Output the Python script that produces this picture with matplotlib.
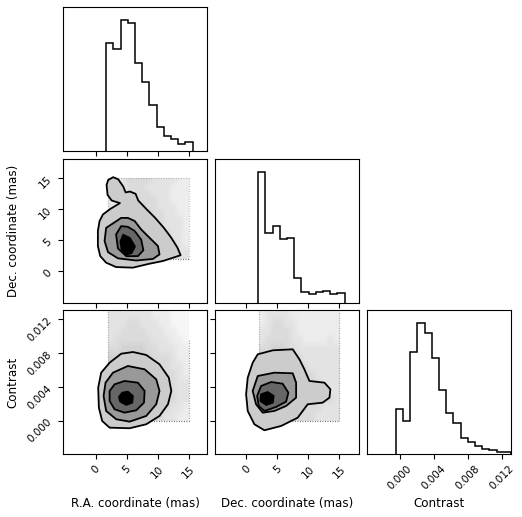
import numpy as np
import matplotlib
matplotlib.use("Agg")
import matplotlib.pyplot as plt
from matplotlib.colors import LinearSegmentedColormap

# ---------------- data ----------------
labels = ["R.A. coordinate (mas)", "Dec. coordinate (mas)", "Contrast"]
ra_range = [-5.25, 17.95]
dec_range = [-5.0, 18.15]
con_range = [-0.0039, 0.0131]
ra_ticks = [0, 5, 10, 15]
dec_ticks = [0, 5, 10, 15]
con_ticks = [0.000, 0.004, 0.008, 0.012]
con_ticklabels = ["0.000", "0.004", "0.008", "0.012"]
prior_lo, prior_hi = 2.0, 15.0

# 1D histograms (bin edges and counts)
ra_edges = [1.71, 2.87, 4.03, 5.19, 6.35, 7.51, 8.67, 9.83, 10.99, 12.15, 13.31, 14.47, 15.63]
ra_counts = [322, 304, 390, 382, 263, 206, 136, 71, 46, 35, 22, 28]
dec_edges = [1.95, 3.10, 4.26, 5.42, 6.58, 7.74, 8.89, 10.05, 11.21, 12.37, 13.52, 14.68, 15.84]
dec_counts = [393, 208, 229, 190, 193, 73, 31, 25, 31, 34, 25, 28]
con_edges = [-0.00050, 0.00035, 0.00120, 0.00205, 0.00290, 0.00375, 0.00460, 0.00545,
             0.00630, 0.00715, 0.00800, 0.00885, 0.00970, 0.01055, 0.01140, 0.01225, 0.01310]
con_counts = [134, 98, 305, 392, 362, 286, 191, 122, 92, 49, 36, 24, 15, 11, 5, 5]

# 2D credible-region outlines (outer -> inner)
radec_c1 = [(2.84, 15.15), (3.65, 14.8), (4.45, 13.65), (4.84, 12.7), (5.53, 12.84), (6.45, 12.47),
            (6.87, 11.4), (8.2, 10.0), (9.6, 8.6), (11.0, 7.0), (12.2, 5.4), (13.2, 3.8), (13.7, 2.6),
            (12.47, 2.2), (10.85, 1.67), (8.7, 1.24), (6.0, 0.6), (3.3, 0.7), (1.7, 1.4), (0.74, 2.47),
            (0.37, 4.07), (0.37, 6.5), (0.64, 8.1), (1.18, 9.15), (2.31, 10.0), (3.92, 10.98),
            (2.58, 11.4), (1.93, 12.3), (1.77, 13.9), (2.03, 14.7)]
radec_c2 = [(4.13, 8.6), (5.2, 8.6), (6.3, 8.1), (7.35, 6.74), (8.7, 5.4), (10.05, 4.07), (10.3, 2.73),
            (9.24, 2.0), (6.55, 1.75), (3.6, 2.1), (2.0, 3.1), (1.45, 4.88), (1.7, 7.0)]
radec_c3 = [(4.13, 7.28), (5.2, 7.17), (6.3, 6.5), (7.35, 5.1), (7.7, 3.4), (6.82, 2.45),
            (4.94, 2.45), (3.6, 3.7), (3.3, 5.94)]
radec_c4 = [(4.45, 5.9), (5.53, 5.36), (6.34, 4.0), (5.8, 2.95), (5.0, 2.68), (4.2, 3.48), (4.0, 4.8)]

racon_c1 = [(2.26, 0.00688), (4.13, 0.00794), (6.02, 0.00814), (8.16, 0.00779), (10.3, 0.00669),
            (11.8, 0.00511), (12.2, 0.00354), (11.66, 0.00197), (10.3, 0.00059), (8.16, -0.00039),
            (5.48, -0.00086), (2.26, -0.00079), (1.06, 0.0), (0.53, 0.00157), (0.42, 0.00393),
            (0.9, 0.0057)]
racon_c2 = [(5.2, 0.00649), (7.9, 0.0061), (9.77, 0.00492), (10.3, 0.00354), (9.77, 0.00197),
            (8.16, 0.00059), (5.48, -0.00008), (3.33, 0.0002), (1.7, 0.00118), (1.29, 0.00295),
            (1.6, 0.00452), (2.8, 0.0057)]
racon_c3 = [(4.67, 0.00472), (6.82, 0.00452), (7.9, 0.00354), (7.8, 0.00216), (6.55, 0.00126),
            (4.67, 0.00098), (3.06, 0.00138), (2.26, 0.00236), (2.26, 0.00354), (3.06, 0.00433)]
racon_c4 = [(4.3, 0.00334), (5.2, 0.00346), (6.02, 0.00295), (5.9, 0.00216), (4.94, 0.00189),
            (3.97, 0.00228), (3.76, 0.00283)]

deccon_c1 = [(1.87, 0.00787), (4.28, 0.00834), (7.5, 0.00846), (8.57, 0.00728), (9.37, 0.0061),
             (10.18, 0.00472), (12.6, 0.00452), (13.55, 0.00374), (13.4, 0.00275), (12.3, 0.00216),
             (9.9, 0.00197), (8.3, 0.00039), (5.63, -0.00059), (2.94, -0.0011), (1.33, -0.00039),
             (0.26, 0.00118), (0.0, 0.00315), (0.26, 0.00511), (1.06, 0.00688)]
deccon_c2 = [(1.87, 0.00531), (4.55, 0.0057), (7.5, 0.00563), (8.04, 0.00452), (8.04, 0.00275),
             (6.43, 0.00177), (4.55, 0.00118), (2.67, 0.00098), (1.6, 0.00197), (1.06, 0.00354)]
deccon_c3 = [(2.41, 0.00413), (4.02, 0.0046), (5.88, 0.0044), (6.8, 0.00334), (6.43, 0.00228),
             (4.82, 0.00165), (2.94, 0.00118), (2.03, 0.00177), (1.77, 0.00295)]
deccon_c4 = [(2.41, 0.00315), (3.47, 0.00342), (4.44, 0.00295), (4.28, 0.00216), (3.22, 0.00189),
             (2.3, 0.00236)]

# sample density (relative, per cell, rows from top to bottom) inside the prior box
radec_density = [
    [1, 2, 3, 4, 4, 4, 4, 3, 3, 3, 3, 2, 2],
    [1, 2, 3, 4, 4, 4, 3, 3, 3, 3, 2, 2, 2],
    [1, 2, 3, 4, 4, 4, 4, 3, 3, 3, 2, 2, 2],
    [2, 3, 4, 4, 4, 4, 4, 4, 3, 3, 2, 2, 2],
    [3, 3, 4, 5, 5, 5, 4, 4, 3, 3, 3, 2, 2],
    [4, 5, 5, 5, 5, 5, 5, 4, 4, 3, 3, 2, 2],
    [5, 5, 5, 5, 5, 5, 5, 4, 4, 3, 3, 3, 2],
    [5, 5, 5, 5, 5, 5, 5, 5, 4, 3, 3, 3, 2],
    [5, 5, 5, 5, 5, 5, 5, 5, 4, 4, 3, 3, 2],
    [5, 5, 5, 5, 5, 5, 5, 5, 5, 4, 3, 3, 2],
    [5, 5, 5, 5, 5, 5, 5, 5, 5, 4, 4, 3, 2],
    [5, 5, 5, 5, 5, 5, 5, 5, 5, 4, 4, 3, 3],
    [5, 5, 5, 5, 5, 5, 5, 5, 5, 4, 4, 3, 3],
]
racon_density = [
    [3, 3, 3, 3, 3, 3, 3, 2, 2, 2, 1, 1, 1],
    [3, 3, 3, 4, 4, 3, 3, 3, 2, 2, 1, 1, 1],
    [3, 3, 4, 4, 4, 4, 3, 3, 3, 2, 2, 1, 1],
    [3, 4, 4, 4, 4, 4, 4, 3, 3, 3, 2, 2, 1],
    [4, 4, 5, 5, 5, 5, 4, 4, 3, 3, 3, 2, 2],
    [5, 5, 5, 5, 5, 5, 5, 4, 4, 4, 3, 2, 2],
    [5, 5, 5, 5, 5, 5, 5, 5, 4, 4, 3, 3, 2],
    [5, 5, 5, 5, 5, 5, 5, 5, 5, 4, 4, 3, 2],
    [5, 5, 5, 5, 5, 5, 5, 5, 5, 4, 4, 3, 3],
    [5, 5, 5, 5, 5, 5, 5, 5, 5, 5, 4, 3, 3],
    [5, 5, 5, 5, 5, 5, 5, 5, 5, 4, 4, 3, 3],
    [5, 5, 5, 5, 5, 5, 5, 5, 4, 4, 3, 3, 2],
    [5, 5, 5, 5, 5, 5, 5, 4, 4, 3, 3, 2, 2],
]
deccon_density = [
    [2, 3, 3, 3, 3, 2, 2, 2, 2, 2, 2, 2, 2],
    [2, 3, 4, 4, 3, 3, 2, 2, 2, 2, 2, 2, 2],
    [3, 3, 4, 4, 4, 3, 2, 2, 2, 2, 2, 2, 2],
    [3, 4, 4, 4, 4, 3, 3, 2, 2, 2, 2, 3, 2],
    [4, 4, 5, 5, 4, 4, 3, 3, 3, 3, 3, 3, 3],
    [5, 5, 5, 5, 5, 4, 4, 3, 3, 3, 3, 3, 3],
    [5, 5, 5, 5, 5, 5, 4, 4, 3, 3, 3, 3, 3],
    [5, 5, 5, 5, 5, 5, 5, 4, 4, 3, 3, 3, 3],
    [5, 5, 5, 5, 5, 5, 5, 5, 4, 4, 3, 3, 3],
    [5, 5, 5, 5, 5, 5, 5, 5, 4, 4, 4, 3, 3],
    [5, 5, 5, 5, 5, 5, 5, 5, 4, 4, 4, 4, 3],
    [5, 5, 5, 5, 5, 5, 5, 4, 4, 4, 3, 3, 3],
    [5, 5, 5, 5, 5, 5, 4, 4, 4, 3, 3, 3, 3],
]
con_density_top = 0.013

# pile-up of samples along the prior boundaries: (x0, x1, y0, y1, strength)
radec_edges = [(8.0, 15.0, 2.0, 2.0, 0.9), (15.0, 15.0, 2.0, 15.0, 0.4),
               (2.0, 15.0, 15.0, 15.0, 0.35), (2.0, 2.0, 10.5, 15.0, 0.35)]
racon_edges = [(9.0, 15.0, 0.0, 0.0, 0.9), (15.0, 15.0, 0.0, 0.0095, 0.6),
               (2.0, 2.0, 0.0025, 0.013, 0.4)]
deccon_edges = [(6.5, 15.0, 0.0, 0.0, 0.9), (15.0, 15.0, 0.0, 0.013, 0.45),
                (2.0, 2.0, 0.004, 0.013, 0.4)]

# ---------------- figure ----------------
W, H = 522, 517
fig = plt.figure(figsize=(W / 100, H / 100), dpi=100)
col_left = [63, 215, 367]
row_top = [7, 158.5, 310]
size = 144

def make_ax(r, c):
    l = col_left[c] / W
    b = 1 - (row_top[r] + size) / H
    return fig.add_axes([l, b, size / W, size / H])

fills = ["#cccccc", "#999999", "#666666", "#000000"]
haze = LinearSegmentedColormap.from_list("haze", ["#ffffff", "#d2d2d2"])
TICK_FS = 7.5
LABEL_FS = 8.6

def style(ax):
    ax.tick_params(direction="out", length=3.5, width=0.8, labelsize=TICK_FS, colors="k")
    for s in ax.spines.values():
        s.set_linewidth(0.8)

def hist(ax, edges, counts, rng, ticks):
    ax.stairs(counts, edges, color="k", lw=1.1, baseline=0)
    ax.set_xlim(rng)
    ax.set_ylim(0, 1.1 * max(counts))
    ax.set_yticks([])
    ax.set_xticks(ticks)
    style(ax)

def panel2d(ax, dens, ytop, ybot, contours, edges, xr, yr, xt, yt):
    ax.imshow(np.array(dens, dtype=float), cmap=haze, vmin=0, vmax=5,
              extent=[prior_lo, prior_hi, ybot, ytop], origin="upper",
              aspect="auto", interpolation="bilinear", zorder=0)
    for (x0, x1, y0, y1, a) in edges:
        ax.plot([x0, x1], [y0, y1], color="0.3", lw=0.9, ls=(0, (0.7, 1.3)), alpha=a, zorder=1)
    for poly, fc in zip(contours, fills):
        xs = [p[0] for p in poly]
        ys = [p[1] for p in poly]
        ax.fill(xs, ys, facecolor=fc, edgecolor="k", lw=1.3, joinstyle="round", zorder=2)
    ax.set_xlim(xr)
    ax.set_ylim(yr)
    ax.set_xticks(xt)
    ax.set_yticks(yt)
    style(ax)

# diagonal
ax00 = make_ax(0, 0)
hist(ax00, ra_edges, ra_counts, ra_range, ra_ticks)
ax00.set_xticklabels([])
ax11 = make_ax(1, 1)
hist(ax11, dec_edges, dec_counts, dec_range, dec_ticks)
ax11.set_xticklabels([])
ax22 = make_ax(2, 2)
hist(ax22, con_edges, con_counts, con_range, con_ticks)
ax22.set_xticklabels(con_ticklabels, rotation=45)

# lower triangle
ax10 = make_ax(1, 0)
panel2d(ax10, radec_density, prior_hi, prior_lo, [radec_c1, radec_c2, radec_c3, radec_c4],
        radec_edges, ra_range, dec_range, ra_ticks, dec_ticks)
ax10.set_xticklabels([])
ax10.set_yticklabels([str(t) for t in dec_ticks], rotation=45)

ax20 = make_ax(2, 0)
panel2d(ax20, racon_density, con_density_top, 0.0, [racon_c1, racon_c2, racon_c3, racon_c4],
        racon_edges, ra_range, con_range, ra_ticks, con_ticks)
ax20.set_xticklabels([str(t) for t in ra_ticks], rotation=45)
ax20.set_yticklabels(con_ticklabels, rotation=45)

ax21 = make_ax(2, 1)
panel2d(ax21, deccon_density, con_density_top, 0.0, [deccon_c1, deccon_c2, deccon_c3, deccon_c4],
        deccon_edges, dec_range, con_range, dec_ticks, con_ticks)
ax21.set_xticklabels([str(t) for t in dec_ticks], rotation=45)
ax21.set_yticklabels([])

# axis labels
for ax, lab in zip([ax20, ax21, ax22], labels):
    ax.set_xlabel(lab, fontsize=LABEL_FS)
    ax.xaxis.set_label_coords(0.5, -0.3)
ax10.set_ylabel(labels[1], fontsize=LABEL_FS)
ax10.yaxis.set_label_coords(-0.3, 0.5)
ax20.set_ylabel(labels[2], fontsize=LABEL_FS)
ax20.yaxis.set_label_coords(-0.3, 0.5)

fig.savefig("out.png", dpi=100, facecolor="white")
